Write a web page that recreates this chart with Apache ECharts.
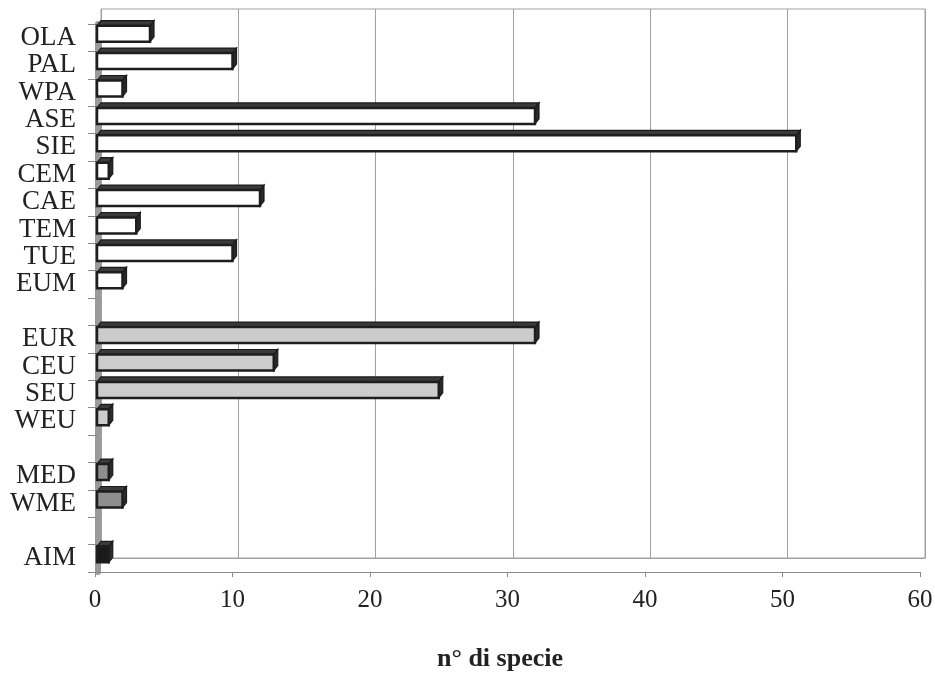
<!DOCTYPE html>
<html>
<head>
<meta charset="utf-8">
<script src="https://cdn.jsdelivr.net/npm/echarts@6/dist/echarts.min.js"></script>
<style>html,body{margin:0;padding:0;background:#fff;}#c{width:935px;height:673px;}</style>
</head>
<body>
<div id="c"></div>
<script>
// Categories top to bottom ('' = empty slot between groups)
const categories = ['OLA','PAL','WPA','ASE','SIE','CEM','CAE','TEM','TUE','EUM','','EUR','CEU','SEU','WEU','','MED','WME','','AIM'];
// Number of species per category
const values = [4,10,2,32,51,1,12,3,10,2,null,32,13,25,1,null,1,2,null,1];
// Fill group for each category
const groups = ['w','w','w','w','w','w','w','w','w','w','','g','g','g','g','','d','d','','k'];
const groupColors = {w:'#ffffff', g:'#cccccc', d:'#8e8e8e', k:'#1a1a1a'};
const xTicks = [0,10,20,30,40,50,60];

const axisCats = categories.map((c,i)=> c === '' ? ' '.repeat(i) : c);
const data = [];
values.forEach((v,i)=>{ if(v!=null) data.push({value:[v,i], color: groupColors[groups[i]]}); });

const FONT = 'Liberation Serif';
const chart = echarts.init(document.getElementById('c'));
chart.setOption({
  animation:false,
  backgroundColor:'#fff',
  grid:[
    {left:95, right:15, top:24, bottom:101, containLabel:false, outerBoundsMode:'none'},
    {left:101, right:10, top:9, bottom:115, show:true, borderColor:'#a0a0a0', borderWidth:1, containLabel:false, outerBoundsMode:'none'}
  ],
  xAxis:[
    {gridIndex:0, type:'value', min:xTicks[0], max:xTicks[xTicks.length-1], interval:10,
     axisLine:{show:true, lineStyle:{color:'#8a8a8a', width:1}},
     axisTick:{show:true, length:5, lineStyle:{color:'#8a8a8a'}},
     splitLine:{show:false},
     axisLabel:{fontFamily:FONT, fontSize:25, color:'#222', margin:16},
     name:'n° di specie', nameLocation:'middle', nameGap:74,
     nameTextStyle:{fontFamily:FONT, fontSize:26, fontWeight:'bold', color:'#222', padding:[0,15,0,0]}},
    {gridIndex:1, type:'value', min:0, max:60, interval:10,
     axisLine:{show:true, lineStyle:{color:'#a0a0a0'}}, axisTick:{show:false}, axisLabel:{show:false},
     splitLine:{show:true, lineStyle:{color:'#a0a0a0', width:1}}}
  ],
  yAxis:[
    {gridIndex:0, type:'category', data:axisCats, inverse:true, offset:-3,
     axisLine:{show:true, lineStyle:{color:'#9a9a9a', width:6}},
     axisTick:{show:true, length:10, interval:0, lineStyle:{color:'#8a8a8a'}},
     axisLabel:{fontFamily:FONT, fontSize:27, color:'#222', margin:22, interval:0}},
    {gridIndex:1, type:'value', show:false}
  ],
  series:[{
    type:'custom', xAxisIndex:0, yAxisIndex:0,
    encode:{x:0, y:1},
    data:data,
    renderItem:function(params, api){
      const v = api.value(0), idx = api.value(1);
      const p0 = api.coord([0, idx]);
      const p1 = api.coord([v, idx]);
      const h = 16, dx = 4, dy = 5;
      const x = p0[0] + 2;
      const w = Math.max(p1[0] - x, 2);
      const y = p0[1] - 12;
      const fill = data[params.dataIndex].color;
      return {type:'group', children:[
        {type:'polygon', shape:{points:[[x,y],[x+dx,y-dy],[x+w+dx,y-dy],[x+w,y]]},
         style:{fill:'#3a3a3a', stroke:'#1a1a1a', lineWidth:1.2}},
        {type:'polygon', shape:{points:[[x+w,y],[x+w+dx,y-dy],[x+w+dx,y+h-dy],[x+w,y+h]]},
         style:{fill:'#2a2a2a', stroke:'#1a1a1a', lineWidth:1.2}},
        {type:'rect', shape:{x:x, y:y, width:w, height:h},
         style:{fill:fill, stroke:'#1e1e1e', lineWidth:2.5}}
      ]};
    }
  }]
});
</script>
</body>
</html>
